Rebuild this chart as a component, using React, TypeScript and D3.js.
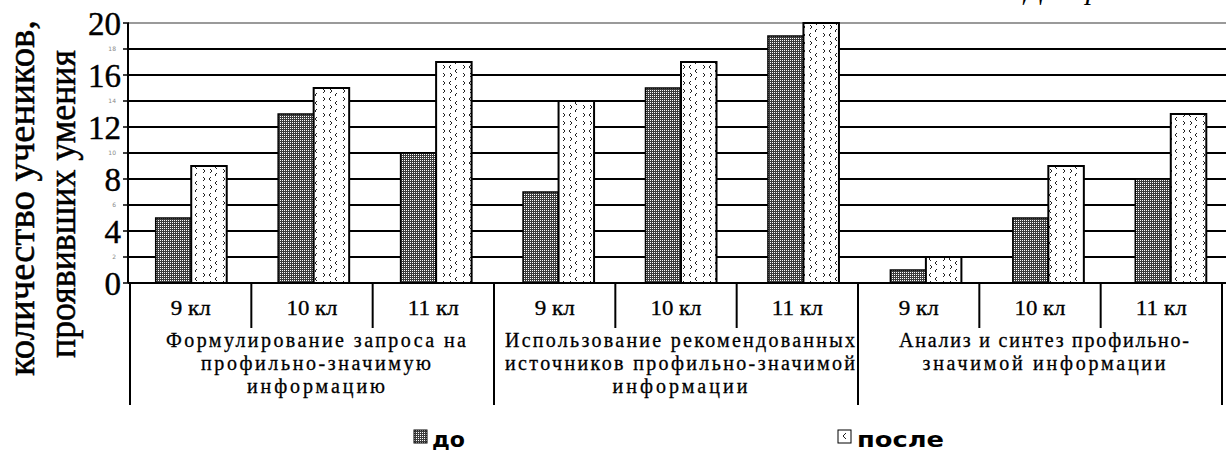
import React from "react";
import * as d3 from "d3";

const classes = ["9 кл", "10 кл", "11 кл"];
const groupLines = [
  ["Формулирование запроса на", "профильно-значимую", "информацию"],
  ["Использование рекомендованных", "источников профильно-значимой", "информации"],
  ["Анализ и синтез профильно-", "значимой информации"],
];
const beforeValues = [5, 13, 10, 7, 15, 19, 1, 5, 8];
const afterValues = [9, 15, 17, 14, 17, 20, 2, 9, 13];
const seriesNames = ["до", "после"];
const majorTicks = [0, 4, 8, 12, 16, 20];
const minorTicks = [2, 6, 10, 14, 18];
const yTitle = ["количество учеников,", "проявивших умения"];

const groupLineWidths = [
  [300, 230, 138],
  [350, 350, 135],
  [290, 243],
];

const W = 1226;
const H = 453;
const SERIF = "'Liberation Serif', 'Times New Roman', serif";
const SANS = "'DejaVu Sans', 'Liberation Sans', sans-serif";

export default function App() {
  const keys = d3.range(9).map((i) => `c${i}`);
  const xBars = d3.scaleBand<string>().domain(keys).range([130, 1232]);
  const xAxis = d3.scaleBand<string>().domain(keys).range([130, 1222]);
  const xSub = d3
    .scaleBand<string>()
    .domain(seriesNames)
    .range([0, xBars.bandwidth()])
    .paddingOuter(0.724);
  const y = d3.scaleLinear().domain([0, 20]).range([283, 23]);
  const gridTicks = d3.range(2, 21, 2);

  const catLabel = (i: number) => classes[i % 3];
  const catLabelWidth = (s: string) => (s.length <= 4 ? 40 : 51);
  const serif = { fontFamily: SERIF };
  const sans = { fontFamily: SANS };

  return (
    <div style={{ position: "absolute", left: 0, top: 0, width: W, height: H, background: "#fff" }}>
      <svg width={W} height={H} style={{ display: "block" }}>
        <defs>
          <pattern id="dark" width="2" height="2" patternUnits="userSpaceOnUse">
            <rect width="2" height="2" fill="#3c3c3c" />
            <rect width="1" height="1" fill="#ffffff" />
          </pattern>
          <pattern id="light" width="20" height="16" patternUnits="userSpaceOnUse">
            <rect width="20" height="16" fill="#fff" />
            <path d="M3,1 L5,3 L3,5" fill="none" stroke="#222" strokeWidth="1" />
            <path d="M11,1 L9,3 L11,5" fill="none" stroke="#222" strokeWidth="1" />
            <path d="M17,5 L15,7 L17,9" fill="none" stroke="#222" strokeWidth="1" />
            <path d="M3,9 L5,11 L3,13" fill="none" stroke="#222" strokeWidth="1" />
            <path d="M10,9 L12,11 L10,13" fill="none" stroke="#222" strokeWidth="1" />
            <path d="M17,13 L15,15 L17,17" fill="none" stroke="#222" strokeWidth="1" />
          </pattern>
        </defs>

        {/* partial italic heading cut at top */}
        <text x={1025} y={-1} style={serif} fontStyle="italic" fontSize={30} fill="#000">
          Диаграмма
        </text>

        {/* gridlines */}
        {gridTicks.map((t) => (
          <line
            key={`g${t}`}
            x1={128}
            x2={W}
            y1={y(t)}
            y2={y(t)}
            stroke={t === 20 ? "#9a9a9a" : "#000"}
            strokeWidth={2}
          />
        ))}
        {/* y tick marks */}
        {gridTicks.concat([0]).map((t) => (
          <line key={`tm${t}`} x1={123} x2={129} y1={y(t)} y2={y(t)} stroke="#000" strokeWidth={1.5} />
        ))}

        {/* bars */}
        {keys.map((k, i) => {
          const x0 = xBars(k)!;
          return (
            <g key={k}>
              <rect
                x={x0 + xSub("до")!}
                y={y(beforeValues[i])}
                width={xSub.bandwidth()}
                height={y(0) - y(beforeValues[i])}
                fill="url(#dark)"
                stroke="#000"
                strokeWidth={1.5}
              />
              <rect
                x={x0 + xSub("после")!}
                y={y(afterValues[i])}
                width={xSub.bandwidth()}
                height={y(0) - y(afterValues[i])}
                fill="url(#light)"
                stroke="#000"
                strokeWidth={2}
              />
            </g>
          );
        })}

        {/* axes */}
        <line x1={128} x2={128} y1={y(20)} y2={y(0)} stroke="#000" strokeWidth={2} />
        <line x1={128} x2={W} y1={y(0)} y2={y(0)} stroke="#000" strokeWidth={2} />

        {/* y labels */}
        {majorTicks.map((t) => (
          <text
            key={`ml${t}`}
            x={121}
            y={y(t)}
            dy="0.35em"
            textAnchor="end"
            style={serif}
            fontSize={33}
            fill="#000"
            stroke="#000"
            strokeWidth={0.4}
          >
            {t}
          </text>
        ))}
        {minorTicks.map((t) => (
          <text
            key={`nl${t}`}
            x={116}
            y={y(t)}
            dy="0.35em"
            textAnchor="end"
            style={sans}
            fontSize={6}
            fill="#888"
          >
            {t}
          </text>
        ))}

        {/* category ticks and labels */}
        {keys.map((k, i) => {
          const x0 = xAxis(k)!;
          const isGroupStart = i % 3 === 0;
          const lbl = catLabel(i);
          return (
            <g key={`ct${k}`}>
              <line
                x1={x0}
                x2={x0}
                y1={y(0)}
                y2={isGroupStart ? 405 : 328}
                stroke="#000"
                strokeWidth={2}
              />
              <text
                x={x0 + xAxis.bandwidth() / 2}
                y={315}
                textAnchor="middle"
                style={serif}
                fontSize={20}
                textLength={catLabelWidth(lbl)}
                lengthAdjust="spacingAndGlyphs"
                fill="#000"
                stroke="#000"
                strokeWidth={0.3}
              >
                {lbl}
              </text>
            </g>
          );
        })}
        <line x1={xAxis.range()[1]} x2={xAxis.range()[1]} y1={y(0)} y2={405} stroke="#000" strokeWidth={2} />

        {/* group labels */}
        {groupLines.map((lines, g) => {
          const start = xAxis(keys[g * 3])!;
          const end = xAxis(keys[g * 3 + 2])! + xAxis.bandwidth();
          const cx = (start + end) / 2 + 4;
          return lines.map((ln, j) => (
            <text
              key={`gl${g}-${j}`}
              x={cx}
              y={347 + j * 23}
              textAnchor="middle"
              style={serif}
              fontSize={20}
              textLength={groupLineWidths[g][j]}
              lengthAdjust="spacing"
              fill="#000"
              stroke="#000"
              strokeWidth={0.3}
            >
              {ln}
            </text>
          ));
        })}

        {/* y title */}
        <text
          transform="translate(34,198) rotate(-90)"
          textAnchor="middle"
          style={serif}
          fontSize={38}
          textLength={356}
          lengthAdjust="spacingAndGlyphs"
          fill="#000"
          stroke="#000"
          strokeWidth={0.5}
        >
          {yTitle[0]}
        </text>
        <text
          transform="translate(75,204) rotate(-90)"
          textAnchor="middle"
          style={serif}
          fontSize={38}
          textLength={308}
          lengthAdjust="spacingAndGlyphs"
          fill="#000"
          stroke="#000"
          strokeWidth={0.5}
        >
          {yTitle[1]}
        </text>

        {/* legend */}
        <rect x={414} y={430} width={13} height={13} fill="url(#dark)" stroke="#000" strokeWidth={1} />
        <text x={432} y={447} style={sans} fontWeight="bold" fontSize={22} textLength={33} lengthAdjust="spacingAndGlyphs" fill="#000">
          {seriesNames[0]}
        </text>
        <rect x={838} y={430} width={13} height={13} fill="#fff" stroke="#000" strokeWidth={1} />
        <path d="M846,433 L843,436 L846,439" fill="none" stroke="#222" strokeWidth={1} />
        <text x={857} y={447} style={sans} fontWeight="bold" fontSize={22} textLength={87} lengthAdjust="spacingAndGlyphs" fill="#000">
          {seriesNames[1]}
        </text>
      </svg>
    </div>
  );
}
